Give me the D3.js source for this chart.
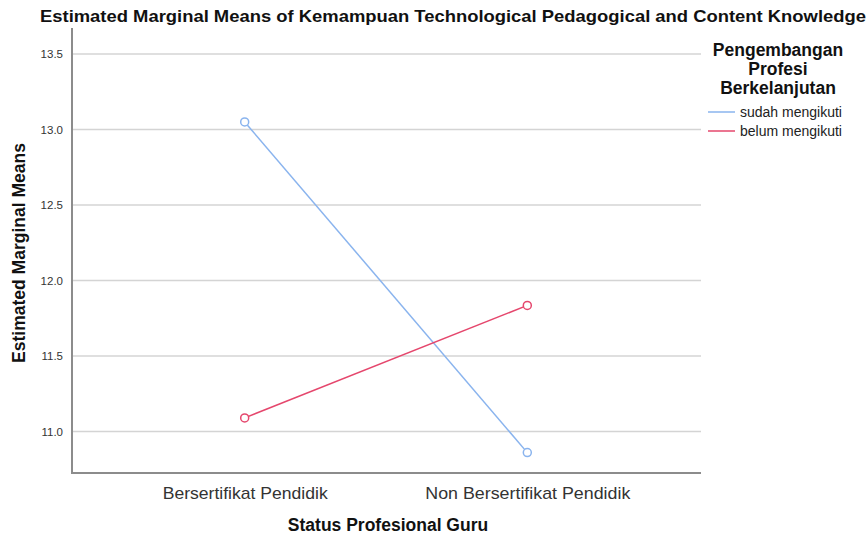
<!DOCTYPE html>
<html lang="en">
<head>
    <meta charset="UTF-8">
    <title>Estimated Marginal Means</title>
    <script src="https://d3js.org/d3.v7.min.js"></script>
    <style>
        body { margin: 0; background: #fff; }
        svg { display: block; font-family: "Liberation Sans", Arial, sans-serif; }
        .tick text { fill: #333; }
    </style>
</head>
<body>
    <svg width="868" height="537"></svg>
    <script>
        // data
        const categories = ["Bersertifikat Pendidik", "Non Bersertifikat Pendidik"];
        const seriesNames = ["sudah mengikuti", "belum mengikuti"];
        const sudahValues = [13.05, 10.86];
        const belumValues = [11.09, 11.835];
        const yTicks = [11.0, 11.5, 12.0, 12.5, 13.0, 13.5];

        const colors = ["#8ab4ee", "#e5476d"];
        const series = [
            { name: seriesNames[0], values: sudahValues },
            { name: seriesNames[1], values: belumValues }
        ];

        const svg = d3.select("svg");
        const plotLeft = 72, plotRight = 700, plotTop = 28, plotBottom = 473;

        const x = d3.scalePoint()
            .domain(categories)
            .range([plotLeft, plotRight])
            .padding(0.611);

        const y = d3.scaleLinear()
            .domain([10.725, 13.672])
            .range([plotBottom, plotTop]);

        // grid lines
        svg.append("g")
            .selectAll("line")
            .data(yTicks)
            .enter()
            .append("line")
            .attr("x1", plotLeft).attr("x2", plotRight + 1)
            .attr("y1", d => y(d)).attr("y2", d => y(d))
            .attr("stroke", "#d4d4d4")
            .attr("stroke-width", 1.5);

        // y axis
        const yAxis = svg.append("g")
            .attr("transform", `translate(${plotLeft},0)`)
            .call(d3.axisLeft(y).tickValues(yTicks).tickFormat(d3.format(".1f")).tickSize(0).tickPadding(9));
        yAxis.select(".domain").remove();
        yAxis.selectAll("text").attr("font-size", 11.5).attr("font-family", "Liberation Sans, Arial, sans-serif");

        // x axis
        const xAxis = svg.append("g")
            .attr("transform", `translate(0,${plotBottom})`)
            .call(d3.axisBottom(x).tickSize(0).tickPadding(12));
        xAxis.select(".domain").remove();
        xAxis.selectAll("text")
            .attr("font-size", 17)
            .attr("font-family", "Liberation Sans, Arial, sans-serif")
            .attr("dy", "0.8em")
            .attr("textLength", (d, i) => i === 0 ? 165 : 205)
            .attr("lengthAdjust", "spacingAndGlyphs");

        // axis lines
        svg.append("line")
            .attr("x1", plotLeft).attr("x2", plotLeft)
            .attr("y1", plotTop).attr("y2", plotBottom)
            .attr("stroke", "#8c8c8c").attr("stroke-width", 2);
        svg.append("line")
            .attr("x1", plotLeft - 1).attr("x2", plotRight + 1)
            .attr("y1", plotBottom).attr("y2", plotBottom)
            .attr("stroke", "#8c8c8c").attr("stroke-width", 2);

        // lines + markers
        const line = d3.line()
            .x((d, i) => x(categories[i]))
            .y(d => y(d));

        series.forEach(function (s, k) {
            svg.append("path")
                .attr("d", line(s.values))
                .attr("fill", "none")
                .attr("stroke", colors[k])
                .attr("stroke-width", 1.5);
            svg.append("g")
                .selectAll("circle")
                .data(s.values)
                .enter()
                .append("circle")
                .attr("cx", (d, i) => x(categories[i]))
                .attr("cy", d => y(d))
                .attr("r", 4)
                .attr("fill", "#fff")
                .attr("stroke", colors[k])
                .attr("stroke-width", 1.5);
        });

        // title
        svg.append("text")
            .attr("x", 453).attr("y", 22)
            .attr("text-anchor", "middle")
            .attr("font-size", 17).attr("font-weight", "bold")
            .attr("fill", "#111")
            .attr("textLength", 826)
            .attr("lengthAdjust", "spacingAndGlyphs")
            .text("Estimated Marginal Means of Kemampuan Technological Pedagogical and Content Knowledge");

        // axis titles
        svg.append("text")
            .attr("transform", "translate(25,253) rotate(-90)")
            .attr("text-anchor", "middle")
            .attr("font-size", 17.5).attr("font-weight", "bold")
            .attr("fill", "#111")
            .text("Estimated Marginal Means");

        svg.append("text")
            .attr("x", 388).attr("y", 531)
            .attr("text-anchor", "middle")
            .attr("font-size", 17.5).attr("font-weight", "bold")
            .attr("fill", "#111")
            .text("Status Profesional Guru");

        // legend
        const legendTitle = ["Pengembangan", "Profesi", "Berkelanjutan"];
        svg.append("g")
            .selectAll("text")
            .data(legendTitle)
            .enter()
            .append("text")
            .attr("x", 778)
            .attr("y", (d, i) => 56 + i * 19)
            .attr("text-anchor", "middle")
            .attr("font-size", 17.5).attr("font-weight", "bold")
            .attr("fill", "#111")
            .text(d => d);

        const legendItem = svg.append("g")
            .selectAll("g")
            .data(series)
            .enter()
            .append("g")
            .attr("transform", (d, i) => `translate(708,${112 + i * 19})`);
        legendItem.append("line")
            .attr("x1", 0).attr("x2", 27)
            .attr("stroke", (d, i) => colors[i])
            .attr("stroke-width", 1.5);
        legendItem.append("text")
            .attr("x", 32).attr("y", 5)
            .attr("font-size", 14)
            .attr("fill", "#222")
            .text(d => d.name);
    </script>
</body>
</html>
